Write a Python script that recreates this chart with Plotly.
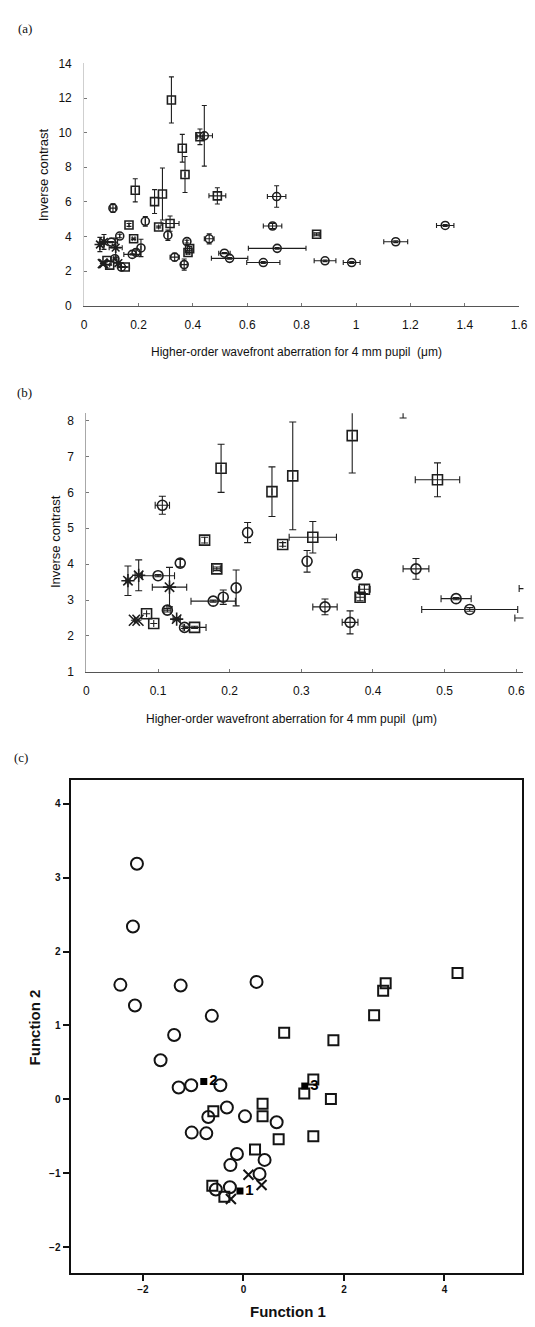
import plotly.graph_objects as go
import numpy as np

# ---------------- data for panels (a) and (b) (same measurements) ----------------
# higher-order wavefront aberration (um), inverse contrast, their SDs, marker group
hoa = [0.188, 0.259, 0.288, 0.371, 0.490, 0.106, 0.165, 0.225, 0.274, 0.316,
       0.131, 0.182, 0.308, 0.378, 0.388, 0.382, 0.460, 0.516, 0.535, 0.368,
       0.333, 0.209, 0.191, 0.177, 0.100, 0.073, 0.058, 0.116, 0.113, 0.126,
       0.137, 0.151, 0.072, 0.084, 0.094, 0.067,
       0.321, 0.426, 0.442, 0.361, 0.708, 0.693, 0.855, 1.328, 1.146, 0.886,
       0.984, 0.659, 0.710]
inv = [6.67, 6.02, 6.46, 7.58, 6.35, 5.64, 4.67, 4.88, 4.55, 4.75,
       4.03, 3.87, 4.08, 3.71, 3.30, 3.08, 3.87, 3.04, 2.74, 2.38,
       2.81, 3.34, 3.08, 2.97, 3.68, 3.69, 3.54, 3.36, 2.72, 2.47,
       2.24, 2.24, 2.44, 2.62, 2.35, 2.44,
       11.89, 9.76, 9.82, 9.10, 6.31, 4.61, 4.13, 4.64, 3.70, 2.60,
       2.50, 2.50, 3.32]
hoa_sd = [0.0, 0.0, 0.0, 0.0, 0.031, 0.010, 0.0, 0.0, 0.0, 0.033,
          0.0, 0.005, 0.0, 0.0, 0.008, 0.006, 0.018, 0.021, 0.067, 0.011,
          0.017, 0.0, 0.0, 0.031, 0.023, 0.005, 0.003, 0.024, 0.005, 0.005,
          0.0, 0.016, 0.0, 0.0, 0.0, 0.0,
          0.0, 0.010, 0.030, 0.0, 0.034, 0.034, 0.010, 0.032, 0.044, 0.040,
          0.031, 0.061, 0.106]
inv_sd = [0.67, 0.69, 1.50, 1.04, 0.47, 0.25, 0.08, 0.28, 0.05, 0.44,
          0.10, 0.05, 0.30, 0.08, 0.12, 0.10, 0.29, 0.03, 0.05, 0.32,
          0.22, 0.50, 0.20, 0.03, 0.03, 0.43, 0.41, 0.55, 0.05, 0.03,
          0.03, 0.03, 0.0, 0.0, 0.0, 0.0,
          1.33, 0.45, 1.75, 0.80, 0.62, 0.15, 0.08, 0.05, 0.05, 0.05,
          0.05, 0.05, 0.05]
group = ['sq', 'sq', 'sq', 'sq', 'sq', 'ci', 'sq', 'ci', 'sq', 'sq',
         'ci', 'sq', 'ci', 'ci', 'sq', 'sq', 'ci', 'ci', 'ci', 'ci',
         'ci', 'ci', 'ci', 'ci', 'ci', 'as', 'as', 'as', 'ci', 'as',
         'ci', 'sq', 'xx', 'sq', 'sq', 'xx',
         'sq', 'sq', 'ci', 'sq', 'ci', 'ci', 'sq', 'ci', 'ci', 'ci',
         'ci', 'ci', 'ci']

a_xticks = [0, 0.2, 0.4, 0.6, 0.8, 1, 1.2, 1.4, 1.6]
a_xticklabels = ['0', '0.2', '0.4', '0.6', '0.8', '1', '1.2', '1.4', '1.6']
a_yticks = [0, 2, 4, 6, 8, 10, 12, 14]
b_xticks = [0, 0.1, 0.2, 0.3, 0.4, 0.5, 0.6]
b_xticklabels = ['0', '0.1', '0.2', '0.3', '0.4', '0.5', '0.6']
b_yticks = [1, 2, 3, 4, 5, 6, 7, 8]

# ---------------- data for panel (c) (discriminant functions) ----------------
circ_f1 = [-2.12, -2.20, -2.45, -2.16, -1.25, 0.26, -0.63, -1.38, -1.65, -1.29,
           -1.04, -0.46, -0.70, -0.33, 0.03, 0.66, -1.03, -0.74, -0.13, -0.26,
           0.42, 0.32, -0.27, -0.55]
circ_f2 = [3.19, 2.34, 1.55, 1.27, 1.54, 1.59, 1.13, 0.87, 0.53, 0.16,
           0.19, 0.19, -0.24, -0.11, -0.23, -0.31, -0.45, -0.46, -0.74, -0.89,
           -0.82, -1.01, -1.19, -1.22]
sq_f1 = [4.26, 2.83, 2.78, 2.60, 0.81, 1.79, 1.39, 1.21, 1.74, 0.38,
         0.38, -0.60, 0.70, 1.39, 0.23, -0.62, -0.38]
sq_f2 = [1.71, 1.57, 1.47, 1.14, 0.90, 0.80, 0.27, 0.08, 0.005, -0.06,
         -0.23, -0.16, -0.54, -0.50, -0.68, -1.17, -1.32]
x_f1 = [0.10, 0.36, -0.25]
x_f2 = [-1.02, -1.16, -1.35]
cent_f1 = [-0.07, -0.79, 1.22]
cent_f2 = [-1.24, 0.24, 0.18]
cent_lab = ['1', '2', '3']
c_xticks = [-2, 0, 2, 4]
c_yticks = [-2, -1, 0, 1, 2, 3, 4]

W, H = 535, 1327
INK = '#1e1e1e'


def px(x):
    return x / W


def py(y):
    return 1 - y / H


fig = go.Figure()

symbols = {'sq': 'square-open', 'ci': 'circle-open', 'as': 'asterisk-open', 'xx': 'x-thin-open'}
hoa_a = np.array(hoa)
inv_a = np.array(inv)
hsd = np.array(hoa_sd)
isd = np.array(inv_sd)
grp = np.array(group)

for panel, (xa, ya, msize, cap, lw) in {'a': ('x', 'y', 8, 2.5, 1.6),
                                        'b': ('x2', 'y2', 10, 3.5, 1.6)}.items():
    for g in ['sq', 'ci', 'as', 'xx']:
        m = grp == g
        fig.add_trace(go.Scatter(
            x=hoa_a[m], y=inv_a[m], mode='markers', xaxis=xa, yaxis=ya,
            marker=dict(symbol=symbols[g], size=msize + (1 if g in ('as', 'xx') else 0),
                        color=INK, line=dict(width=lw, color=INK)),
            error_x=dict(type='data', array=hsd[m], visible=True, color=INK,
                         thickness=1.1, width=cap),
            error_y=dict(type='data', array=isd[m], visible=True, color=INK,
                         thickness=1.1, width=cap),
            hoverinfo='skip', showlegend=False))

# panel (c)
CK = '#141414'
fig.add_trace(go.Scatter(x=circ_f1, y=circ_f2, mode='markers', xaxis='x3', yaxis='y3',
                         marker=dict(symbol='circle-open', size=12, color=CK,
                                     line=dict(width=2, color=CK)), showlegend=False))
fig.add_trace(go.Scatter(x=sq_f1, y=sq_f2, mode='markers', xaxis='x3', yaxis='y3',
                         marker=dict(symbol='square-open', size=10, color=CK,
                                     line=dict(width=2, color=CK)), showlegend=False))
fig.add_trace(go.Scatter(x=x_f1, y=x_f2, mode='markers', xaxis='x3', yaxis='y3',
                         marker=dict(symbol='x-thin-open', size=10, color=CK,
                                     line=dict(width=2, color=CK)), showlegend=False))
fig.add_trace(go.Scatter(x=cent_f1, y=cent_f2, mode='markers+text', xaxis='x3', yaxis='y3',
                         text=cent_lab, textposition='middle right',
                         textfont=dict(family='Liberation Sans', size=15, color='#000', weight='bold'),
                         marker=dict(symbol='square', size=7, color='#000'), showlegend=False))

tickfont = dict(family='Liberation Sans, Arial', size=12, color='#111')
common_a = dict(showgrid=False, zeroline=False, ticks='inside', ticklen=3,
                tickcolor='#777', tickfont=tickfont, ticklabeloverflow='allow')
ctick = dict(family='Liberation Sans', size=10, color='#111', weight='bold')

fig.update_layout(
    width=W, height=H, margin=dict(l=0, r=0, t=0, b=0),
    paper_bgcolor='white', plot_bgcolor='white', showlegend=False,
    xaxis=dict(domain=[px(83), px(528)], range=[0, 1.6], anchor='y',
               tickvals=a_xticks, ticktext=a_xticklabels, showline=True,
               linecolor='#555', linewidth=1, ticklabelstandoff=8, **common_a),
    yaxis=dict(domain=[py(302), py(57)], range=[0, 14], anchor='x',
               tickvals=a_yticks, showline=True, linecolor='#cfcfcf', linewidth=1,
               ticklabelstandoff=9, **common_a),
    xaxis2=dict(domain=[px(85.3), px(532.4)], range=[0, 0.61], anchor='y2',
                tickvals=b_xticks, ticktext=b_xticklabels,
                showline=True, linecolor='#555', linewidth=1, ticklabelstandoff=8, **common_a),
    yaxis2=dict(domain=[py(672), py(410.7)], range=[1, 8.2], anchor='x2',
                tickvals=b_yticks, showline=True, linecolor='#a8a8a8', linewidth=1,
                ticklabelstandoff=9, **common_a),
    xaxis3=dict(domain=[px(70), px(531)], range=[-3.424, 5.545], anchor='y3',
                tickvals=c_xticks, showgrid=False, zeroline=False, showline=True,
                mirror=True, linecolor='#111', linewidth=1.8, ticks='outside', ticklen=7,
                tickwidth=1.5, tickcolor='#111', tickfont=ctick),
    yaxis3=dict(domain=[py(1279), py(781)], range=[-2.344, 4.326], anchor='x3',
                tickvals=c_yticks, showgrid=False, zeroline=False, showline=True,
                mirror=True, linecolor='#111', linewidth=1.8, ticks='outside', ticklen=7,
                tickwidth=1.5, tickcolor='#111', tickfont=ctick),
)

ann = []
lab_font = dict(family='Liberation Serif, DejaVu Serif', size=13, color='#111')
title_font = dict(family='Liberation Sans, Arial', size=12, color='#111')
for t, x, y in [('(a)', 22, 22), ('(b)', 22, 390), ('(c)', 18, 759)]:
    ann.append(dict(text=t, x=px(x), y=py(y), xref='paper', yref='paper', showarrow=False,
                    font=lab_font, xanchor='center', yanchor='middle'))
xt = 'Higher-order wavefront aberration for 4 mm pupil  (μm)'
ann.append(dict(text=xt, x=px(300), y=py(349), xref='paper', yref='paper', showarrow=False,
                font=title_font, xanchor='center', yanchor='middle'))
ann.append(dict(text=xt, x=px(295), y=py(720), xref='paper', yref='paper', showarrow=False,
                font=title_font, xanchor='center', yanchor='middle'))
ann.append(dict(text='Inverse contrast', x=px(41), y=py(170), xref='paper', yref='paper',
                showarrow=False, textangle=-90,
                font=dict(family='Liberation Sans, Arial', size=13, color='#111'),
                xanchor='center', yanchor='middle'))
ann.append(dict(text='Inverse contrast', x=px(54), y=py(540), xref='paper', yref='paper',
                showarrow=False, textangle=-90,
                font=dict(family='Liberation Sans, Arial', size=13, color='#111'),
                xanchor='center', yanchor='middle'))
ann.append(dict(text='<b>Function 1</b>', x=px(292), y=py(1318), xref='paper', yref='paper',
                showarrow=False, font=dict(family='Liberation Sans, Arial', size=15, color='#111'),
                xanchor='center', yanchor='middle'))
ann.append(dict(text='<b>Function 2</b>', x=px(32), y=py(1031), xref='paper', yref='paper',
                showarrow=False, textangle=-90,
                font=dict(family='Liberation Sans, Arial', size=15, color='#111'),
                xanchor='center', yanchor='middle'))
fig.update_layout(annotations=ann)

fig.write_html('out.html')
